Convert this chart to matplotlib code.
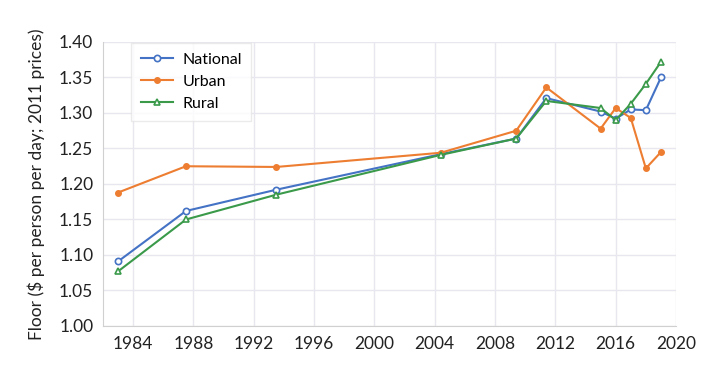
import matplotlib
matplotlib.use("Agg")
import matplotlib.pyplot as plt

plt.rcParams['font.family'] = ['Lato', 'DejaVu Sans']

years_nat = [1983, 1987.5, 1993.5, 2004.4, 2009.4, 2011.4, 2015, 2016, 2017, 2018, 2019]
national = [1.091, 1.162, 1.192, 1.242, 1.264, 1.321, 1.302, 1.292, 1.305, 1.304, 1.350]
urban =    [1.188, 1.225, 1.224, 1.244, 1.275, 1.336, 1.278, 1.307, 1.293, 1.222, 1.245]
rural =    [1.077, 1.150, 1.185, 1.241, 1.264, 1.317, 1.307, 1.290, 1.313, 1.341, 1.372]

xticks = [1984, 1988, 1992, 1996, 2000, 2004, 2008, 2012, 2016, 2020]
yticks = [1.00, 1.05, 1.10, 1.15, 1.20, 1.25, 1.30, 1.35, 1.40]

blue = '#4472C4'
orange = '#ED7D31'
green = '#3A9A4A'

fig = plt.figure(figsize=(7.22, 3.77), dpi=100)
ax = fig.add_axes([0.1427, 0.1353, 0.7936, 0.7533])

ax.plot(years_nat, national, color=blue, lw=1.5, marker='o', ms=4.5,
        mfc='white', mec=blue, mew=1.2, label='National', zorder=3)
ax.plot(years_nat, urban, color=orange, lw=1.5, marker='o', ms=4,
        mfc=orange, mec=orange, label='Urban', zorder=3)
ax.plot(years_nat, rural, color=green, lw=1.5, marker='^', ms=5,
        mfc='white', mec=green, mew=1.2, label='Rural', zorder=3)

ax.set_xlim(1982, 2020)
ax.set_ylim(1.0, 1.4)
ax.set_xticks(xticks)
ax.set_yticks(yticks)
ax.set_yticklabels([f"{v:.2f}" for v in yticks])
ax.grid(True, color='#e8e6ee', lw=1)
ax.set_axisbelow(True)
for s in ['top', 'right']:
    ax.spines[s].set_visible(False)
for s in ['left', 'bottom']:
    ax.spines[s].set_color('#d0d0d0')
ax.tick_params(length=0, labelsize=12.5, colors='#222222', pad=7)
ax.set_ylabel('Floor ($ per person per day; 2011 prices)', fontsize=12.5, color='#222222', labelpad=10)

leg = ax.legend(loc='upper left', bbox_to_anchor=(0.035, 1.025), fontsize=11.5,
                frameon=True, fancybox=False, edgecolor='#e6e6e6',
                handlelength=2.0, handletextpad=0.6, labelspacing=0.5, borderpad=0.6)
leg.get_frame().set_linewidth(1)

fig.savefig('out.png', dpi=100)
